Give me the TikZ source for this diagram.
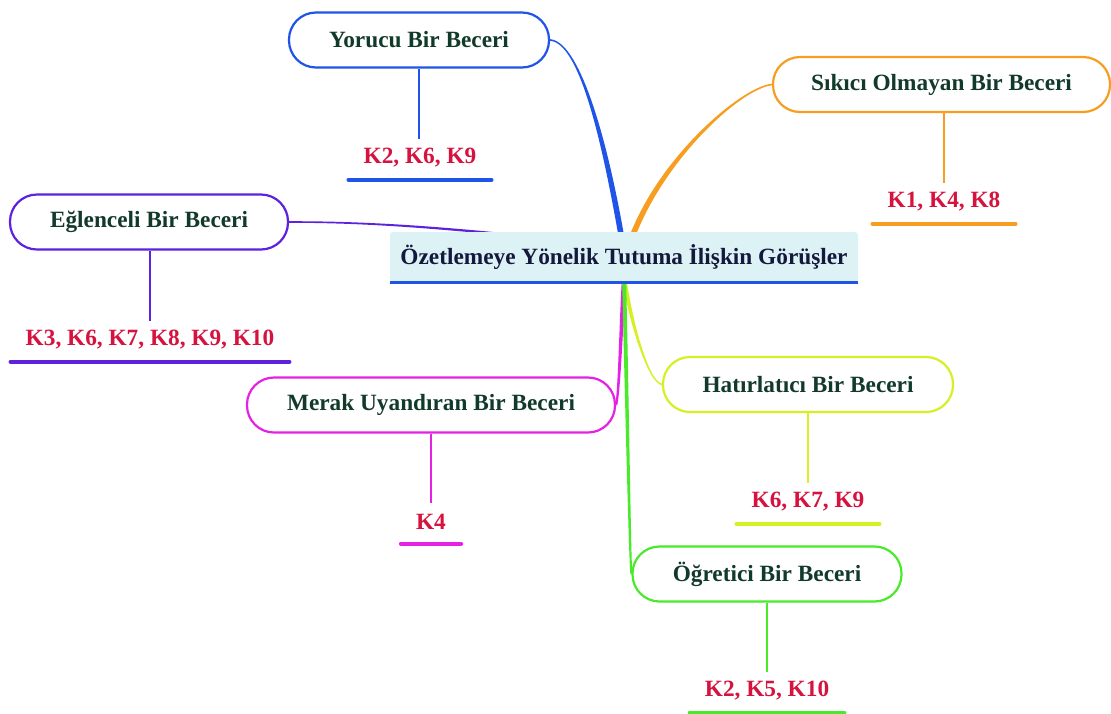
\documentclass[tikz,border=0pt]{standalone}
\usepackage{fontspec}
\setmainfont{Liberation Serif}
\usetikzlibrary{calc,backgrounds}

\definecolor{cBlue}{RGB}{32,84,232}
\definecolor{cOrange}{RGB}{247,158,32}
\definecolor{cPurple}{RGB}{92,34,222}
\definecolor{cMagenta}{RGB}{228,34,228}
\definecolor{cLime}{RGB}{214,240,34}
\definecolor{cGreen}{RGB}{72,234,42}
\definecolor{kRed}{RGB}{214,18,62}
\definecolor{nodeText}{RGB}{18,58,42}
\definecolor{titleText}{RGB}{20,24,60}
\definecolor{titleFill}{RGB}{221,242,245}

% tapered branch: colour, start, control 1, control 2, end, half width at start, half width at end
\newcommand{\taper}[7]{%
  \fill[#1] ($(#2)!#6!90:(#3)$)
    .. controls ($(#3)!#6!-90:(#2)$) and ($(#4)!#7!90:(#5)$) .. ($(#5)!#7!-90:(#4)$)
    -- ($(#5)!#7!90:(#4)$)
    .. controls ($(#4)!#7!-90:(#5)$) and ($(#3)!#6!90:(#2)$) .. ($(#2)!#6!-90:(#3)$)
    -- cycle;}

\begin{document}
\begin{tikzpicture}[x=1pt,y=-1pt,
  txt/.style={font=\bfseries\fontsize{23.3}{27}\selectfont},
  pill/.style={txt, draw, line width=2.2pt, rounded corners=27pt,
    minimum height=55pt, fill=white, text=nodeText, inner sep=0pt},
  klabel/.style={txt, text=kRed, minimum height=38pt, inner xsep=15pt, inner ysep=0pt},
  stem/.style={line width=1.6pt},
  ul/.style={line width=4pt, line cap=round}]
\useasboundingbox (0,0) rectangle (1111,713);

% central topic
\node[txt, fill=titleFill, rounded corners=3pt, minimum width=468pt,
  minimum height=50pt, text=titleText] (title) at (624,257)
  {Özetlemeye Yönelik Tutuma İlişkin Görüşler};
\draw[cBlue, line width=3pt] (title.south west) -- (title.south east);

% hidden junctions under the central topic
\coordinate (hubN) at (622,240);
\coordinate (hubNE) at (631,240);
\coordinate (hubW) at (560,240);
\coordinate (hubS) at (624,276);

% branch topics
\node[pill, draw=cBlue, minimum width=260pt] (yor) at (419,40) {Yorucu Bir Beceri};
\node[pill, draw=cOrange, minimum width=337pt] (sik) at (941.5,84.5) {Sıkıcı Olmayan Bir Beceri};
\node[pill, draw=cPurple, minimum width=278pt] (egl) at (149,222) {Eğlenceli Bir Beceri};
\node[pill, draw=cMagenta, minimum width=368pt] (mer) at (431,405) {Merak Uyandıran Bir Beceri};
\node[pill, draw=cLime, minimum width=290pt] (hat) at (808,384.5) {Hatırlatıcı Bir Beceri};
\node[pill, draw=cGreen, minimum width=269pt] (ogr) at (767,574) {Öğretici Bir Beceri};

% participant codes
\node[klabel] (yorK) at (420,158) {K2, K6, K9};
\node[klabel] (sikK) at (944,202) {K1, K4, K8};
\node[klabel] (eglK) at (150,340) {K3, K6, K7, K8, K9, K10};
\node[klabel] (merK) at (431,522) {K4};
\node[klabel] (hatK) at (808,502) {K6, K7, K9};
\node[klabel] (ogrK) at (767,691) {K2, K5, K10};

% stems from topics to codes
\draw[stem, cBlue] (yor.south) -- (yor.south |- yorK.north);
\draw[stem, cOrange] (sikK.north |- sik.south) -- (sikK.north);
\draw[stem, cPurple] (eglK.north |- egl.south) -- (eglK.north);
\draw[stem, cMagenta] (mer.south) -- (mer.south |- merK.north);
\draw[stem, cLime] (hat.south) -- (hat.south |- hatK.north);
\draw[stem, cGreen] (ogr.south) -- (ogr.south |- ogrK.north);

% underlines of the codes
\foreach \n/\c in {yorK/cBlue, sikK/cOrange, eglK/cPurple, merK/cMagenta, hatK/cLime, ogrK/cGreen}
  \draw[ul, \c] ([yshift=-2.5pt]\n.south west) -- ([yshift=-2.5pt]\n.south east);

% curved branches, behind everything else
\begin{pgfonlayer}{background}
  \fill[white] (0,0) rectangle (1111,713);
  \taper{cBlue}{yor.east}{578,42}{603,130}{hubN}{0.8pt}{2.8pt}
  \taper{cOrange}{sik.west}{740,88}{660,160}{hubNE}{0.8pt}{2.8pt}
  \taper{cPurple}{egl.east}{360,222}{430,226}{hubW}{0.8pt}{1.2pt}
  \taper{cMagenta}{mer.east}{619,395}{621,330}{hubS}{1.1pt}{2pt}
  \taper{cLime}{hat.west}{648,382}{630,320}{hubS}{0.8pt}{2pt}
  \taper{cGreen}{ogr.west}{630,565}{627,400}{hubS}{1pt}{2pt}
\end{pgfonlayer}
\end{tikzpicture}
\end{document}
